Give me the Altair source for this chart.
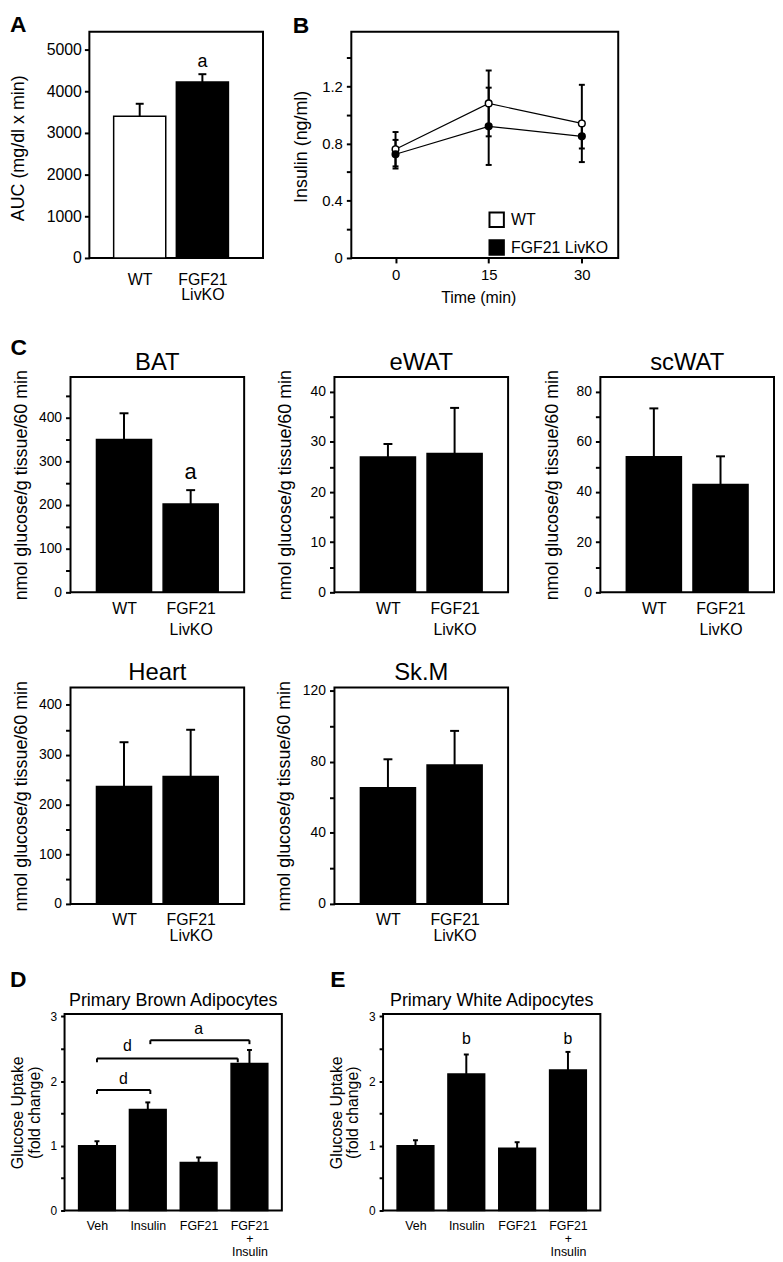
import math
import altair as alt
import pandas as pd

FONT = "Liberation Sans, Arial, Helvetica, sans-serif"

# ---------------- data ----------------
GENOTYPES = ["WT", "FGF21 LivKO"]
GENO_LINES = [["WT"], ["FGF21", "LivKO"]]

# A: glucose AUC
A_AUC = [3400, 4220]
A_SEM = [300, 190]
A_SIG = ["", "a"]
A_SIG_Y = [4590, 4590]

# B: insulin during GTT
B_TIME = [0, 15, 30]
B_WT_MEAN = [0.76, 1.08, 0.94]
B_WT_SEM = [0.12, 0.23, 0.27]
B_KO_MEAN = [0.725, 0.92, 0.85]
B_KO_SEM = [0.10, 0.27, 0.085]

# C: tissue glucose uptake
TISSUES = ["BAT", "eWAT", "scWAT", "Heart", "Sk.M"]
TISSUE_WT = [350, 27.0, 54.0, 236, 65.5]
TISSUE_WT_SEM = [60, 2.6, 19.3, 89, 16.0]
TISSUE_KO = [202, 27.7, 43.0, 256, 78.3]
TISSUE_KO_SEM = [32, 9.1, 11.2, 94, 19.2]
TISSUE_SIG = [["", "a"], ["", ""], ["", ""], ["", ""], ["", ""]]
TISSUE_SIG_Y = [258.6, 0, 0, 0, 0]

# D / E: primary adipocytes
TREAT_LINES = [["Veh"], ["Insulin"], ["FGF21"], ["FGF21", "+", "Insulin"]]
D_MEAN = [1.00, 1.56, 0.74, 2.27]
D_SEM = [0.07, 0.11, 0.08, 0.21]
E_MEAN = [1.00, 2.11, 0.96, 2.17]
E_SEM = [0.085, 0.30, 0.095, 0.28]
E_SIG = ["", "b", "", "b"]
E_SIG_Y = [2.57, 2.57, 2.57, 2.57]

D_BRACKET_FROM = [0, 0, 1.05]
D_BRACKET_TO = [1.05, 2.77, 3.0]
D_BRACKET_Y = [1.86, 2.35, 2.63]
D_BRACKET_LABEL = ["d", "d", "a"]
D_BRACKET_LABEL_X = [0.52, 0.60, 2.0]
D_BRACKET_LABEL_Y = [1.95, 2.46, 2.73]

C_YTITLE = "nmol glucose/g tissue/60 min"


# ---------------- helpers ----------------
def lines_expr(lines):
    parts = ",".join("[" + ",".join("'%s'" % t for t in l) + "]" for l in lines)
    return "[%s][datum.value]" % parts


def y_axis(values, every, fmt, title, tx, ty, lab_size, title_size, tick=5, pad=4, title_lh=None):
    expr = ("abs(round(datum.value/%s)*%s-datum.value) < 1e-6 ? "
            "(datum.value == 0 ? '0' : format(datum.value, '%s')) : ''" % (every, every, fmt))
    kw = {}
    if title_lh:
        kw["titleLineHeight"] = title_lh
    return alt.Axis(values=values, labelExpr=expr, title=title, titleX=tx, titleY=ty,
                    titleAngle=270, titleAlign="center", titleBaseline="top",
                    titleFont=FONT, titleFontSize=title_size, titleFontWeight="normal",
                    titleColor="black", labelFont=FONT, labelFontSize=lab_size,
                    labelColor="black", labelPadding=pad, ticks=True, tickSize=tick,
                    tickWidth=2, tickColor="black", domain=False, grid=False,
                    labelOverlap=False, labelFlush=False, labelBound=False, **kw)


def text_layer(text, x, y, size, weight="normal", align="left", baseline="alphabetic"):
    return alt.Chart(pd.DataFrame({"t": [text]})).mark_text(
        font=FONT, fontSize=size, fontWeight=weight, align=align, baseline=baseline,
        color="black").encode(x=alt.value(x), y=alt.value(y), text="t:N")


def hanchor(y):
    return alt.Chart(pd.DataFrame({"a": [0]})).mark_rule(opacity=0, strokeWidth=1).encode(
        x=alt.value(0), x2=alt.value(1), y=alt.value(y))


def vanchor(x):
    return alt.Chart(pd.DataFrame({"a": [0]})).mark_rule(opacity=0, strokeWidth=1).encode(
        x=alt.value(x), y=alt.value(0), y2=alt.value(1))


def spacer(w):
    return alt.Chart(pd.DataFrame({"a": [0]})).mark_rule(opacity=0, strokeWidth=0).encode(
        x=alt.value(0), x2=alt.value(0), y=alt.value(0)).properties(
        width=w, height=1, view=alt.ViewBackground(strokeWidth=0))


FRAME = alt.ViewBackground(stroke="black", strokeWidth=2)


def bar_panel(p):
    n = len(p["means"])
    df = pd.DataFrame({"pos": list(range(n)), "mean": p["means"], "sem": p["sems"],
                       "fill": p["fills"], "sig": p["sig"], "sig_y": p["sig_y"]})
    base = alt.Chart(df).transform_calculate(top="datum.mean + datum.sem")
    xs = alt.Scale(domain=p["xdom"], nice=False, zero=False)
    ys = alt.Scale(domain=[0, p["ytop"]], nice=False, zero=False)
    xaxis = alt.Axis(values=list(range(n)), labelExpr=lines_expr(p["lines"]), title=None,
                     ticks=False, domain=False, grid=False, labelFont=FONT,
                     labelFontSize=p["xlab"], labelColor="black", labelPadding=p["xpad"],
                     labelLineHeight=p["xlh"], labelOverlap=False, labelFlush=False,
                     labelBound=False)
    yaxis = y_axis(p["yvals"], p["every"], "d", p["ytitle"], p["ytx"], p["yty"],
                   p["ylab"], p["ytitle_size"], tick=p.get("tick", 5), pad=p.get("ypad", 4),
                   title_lh=p.get("title_lh"))
    X = lambda f: alt.X(f, scale=xs, axis=xaxis)
    Y = lambda f: alt.Y(f, scale=ys, axis=yaxis)
    layers = [
        base.mark_bar(size=p["bar_w"], stroke="black", strokeWidth=1.5, opacity=1).encode(
            x=X("pos:Q"), y=Y("mean:Q"), fill=alt.Fill("fill:N", scale=None)),
        base.mark_rule(color="black", strokeWidth=2, opacity=1).encode(
            x=X("pos:Q"), y=Y("mean:Q"), y2="top:Q"),
        base.mark_tick(orient="horizontal", size=p["cap"], thickness=2, color="black",
                       opacity=1).encode(x=X("pos:Q"), y=Y("top:Q")),
        base.transform_filter("datum.sig != ''").mark_text(
            font=FONT, fontSize=p["sig_size"], color="black", baseline="alphabetic",
            align="center").encode(x=X("pos:Q"), y=Y("sig_y:Q"), text="sig:N"),
    ]
    if p.get("brackets"):
        layers += p["brackets"](X, Y)
    if p.get("title"):
        layers.append(text_layer(p["title"], p["W"] / 2, p["title_y"], p["title_size"],
                                 align="center"))
    if p.get("letter"):
        layers.append(text_layer(p["letter"], p["letter_x"], p["letter_y"], 23,
                                 weight="bold"))
    for a in p.get("anchors", []):
        layers.append(hanchor(a))
    layers.append(vanchor(-(p["L"] - 0.5)))
    return alt.layer(*layers).properties(width=p["W"], height=p["H"], view=FRAME)


def d_brackets(X, Y):
    br = pd.DataFrame({"x1": D_BRACKET_FROM, "x2": D_BRACKET_TO, "y": D_BRACKET_Y,
                       "lab": D_BRACKET_LABEL, "lx": D_BRACKET_LABEL_X,
                       "ly": D_BRACKET_LABEL_Y})
    b = alt.Chart(br).transform_calculate(yt="datum.y - 0.06")
    return [
        b.mark_rule(color="black", strokeWidth=2).encode(x=X("x1:Q"), x2="x2:Q", y=Y("y:Q")),
        b.mark_rule(color="black", strokeWidth=2).encode(x=X("x1:Q"), y=Y("y:Q"), y2="yt:Q"),
        b.mark_rule(color="black", strokeWidth=2).encode(x=X("x2:Q"), y=Y("y:Q"), y2="yt:Q"),
        b.mark_text(font=FONT, fontSize=16, color="black", baseline="alphabetic",
                    align="center").encode(x=X("lx:Q"), y=Y("ly:Q"), text="lab:N"),
    ]


# ---------------- row geometry (anchors control vertical gaps) ----------------
H1, H2, H3, H4 = 228, 217, 218, 198
T1, T2, T3, T4 = 18, 40, 27, 46
B1, B2, B3, B4 = 78, 67, 63, 44

# target page x of each plot's left edge, and left extents
XA, XB = 89, 351.7
XC = [70, 335.3, 601.7]
XH, XS = 70, 335.3
XD, XE = 62.7, 384.3
LA, LB, LC, LH, LS, LD, LE = 80, 59, [60.6, 58.3, 57.4], 58.3, 59.3, 55, 55

# ---------------- panel A ----------------
panel_a = bar_panel(dict(
    means=A_AUC, sems=A_SEM, fills=["white", "black"], sig=A_SIG, sig_y=A_SIG_Y,
    sig_size=18, lines=GENO_LINES, xdom=[-0.724, 1.888], bar_w=52.5, cap=8,
    ytop=5429, yvals=[0, 1000, 2000, 3000, 4000, 5000], every=1000,
    ytitle="AUC (mg/dl x min)", ytx=-80, yty=117, ylab=16, ytitle_size=18, ypad=3,
    xlab=16, xpad=13.5, xlh=15, W=175, H=H1, L=LA,
    letter="A", letter_x=-80, letter_y=0.7,
    anchors=[-(T1 - 0.5), H1 + B1 - 0.5]))

# ---------------- panel B ----------------
b_rows = []
for g, ms, ss in [(GENOTYPES[0], B_WT_MEAN, B_WT_SEM), (GENOTYPES[1], B_KO_MEAN, B_KO_SEM)]:
    for t, m, s in zip(B_TIME, ms, ss):
        b_rows.append({"time": t, "group": g, "mean": m, "sem": s})
bdf = pd.DataFrame(b_rows)
bbase = alt.Chart(bdf).transform_calculate(lo="datum.mean - datum.sem",
                                          hi="datum.mean + datum.sem")
BW = 269
bx = alt.Scale(domain=[-7.12, 35.86], nice=False, zero=False)
by = alt.Scale(domain=[0, 1.581], nice=False, zero=False)
b_xaxis = alt.Axis(values=B_TIME, title="Time (min)", titleX=128, titleY=32,
                   titleBaseline="top", titleAlign="center", titleFont=FONT,
                   titleFontSize=16, titleFontWeight="normal", titleColor="black",
                   labelFont=FONT, labelFontSize=15, labelColor="black", labelPadding=5,
                   tickSize=5, tickWidth=2, tickColor="black", domain=False, grid=False,
                   format="d", labelFlush=False, labelOverlap=False)
b_yaxis = y_axis([0, 0.2, 0.4, 0.6, 0.8, 1.0, 1.2, 1.4], 0.4, ".1f", "Insulin (ng/ml)",
                 -59, 115.5, 15, 18, tick=5, pad=4)
BX = lambda f: alt.X(f, scale=bx, axis=b_xaxis)
BY = lambda f: alt.Y(f, scale=by, axis=b_yaxis)


def make_panel_b(origin_in_row):
    return alt.layer(
        bbase.mark_line(color="black", strokeWidth=1.2).encode(
            x=BX("time:Q"), y=BY("mean:Q"), detail="group:N"),
        bbase.mark_rule(color="black", strokeWidth=2, opacity=1).encode(
            x=BX("time:Q"), y=BY("lo:Q"), y2="hi:Q"),
        bbase.mark_tick(orient="horizontal", size=6, thickness=2, color="black",
                        opacity=1).encode(x=BX("time:Q"), y=BY("lo:Q")),
        bbase.mark_tick(orient="horizontal", size=6, thickness=2, color="black",
                        opacity=1).encode(x=BX("time:Q"), y=BY("hi:Q")),
        bbase.mark_point(filled=True, shape="circle", size=45, stroke="black",
                         strokeWidth=1.5, opacity=1).encode(
            x=BX("time:Q"), y=BY("mean:Q"),
            fill=alt.Fill("group:N",
                          scale=alt.Scale(domain=GENOTYPES, range=["white", "black"]),
                          legend=alt.Legend(title=None, orient="none",
                                            legendX=origin_in_row + 140, legendY=181,
                                            symbolType="square", symbolSize=210,
                                            symbolStrokeColor="black", symbolStrokeWidth=2,
                                            symbolOpacity=1, labelFont=FONT,
                                            labelFontSize=16, labelColor="black",
                                            labelOffset=6, rowPadding=5, padding=0,
                                            direction="vertical"))),
        text_layer("B", -59, 1.7, 23, weight="bold"),
        vanchor(-(LB - 0.5)),
    ).properties(width=BW, height=H1, view=FRAME)


# ---------------- panel C ----------------
C_SPECS = [
    dict(ytop=493, yvals=[0, 50, 100, 150, 200, 250, 300, 350, 400, 450], every=100),
    dict(ytop=42.96, yvals=[0, 5, 10, 15, 20, 25, 30, 35, 40], every=10),
    dict(ytop=85.8, yvals=[0, 10, 20, 30, 40, 50, 60, 70, 80], every=20),
    dict(ytop=434.8, yvals=[0, 50, 100, 150, 200, 250, 300, 350, 400], every=100),
    dict(ytop=121.9, yvals=[0, 20, 40, 60, 80, 100, 120], every=40),
]
C_TX = [-58.3, -58.3, -57.4, -58.3, -59.3]
C_L = [LC[0], LC[1], LC[2], LH, LS]
c_panels = []
for i, name in enumerate(TISSUES):
    row2 = i < 3
    H = H2 if row2 else H3
    spec = dict(
        means=[TISSUE_WT[i], TISSUE_KO[i]], sems=[TISSUE_WT_SEM[i], TISSUE_KO_SEM[i]],
        fills=["black", "black"], sig=TISSUE_SIG[i], sig_y=[TISSUE_SIG_Y[i]] * 2, sig_size=22,
        lines=GENO_LINES, xdom=[-0.728, 1.728], bar_w=55.5, cap=9,
        ytitle=C_YTITLE, ytx=C_TX[i], yty=H / 2, ylab=14, ytitle_size=18,
        xlab=16, xpad=8, xlh=21 if row2 else 16, W=175, H=H, L=C_L[i],
        title=name, title_y=-7 if row2 else -7.3, title_size=24,
    )
    spec.update(C_SPECS[i])
    if i == 0:
        spec.update(letter="C", letter_x=-60.6, letter_y=-21.7,
                    anchors=[-(T2 - 0.5), H2 + B2 - 0.5])
    if i == 3:
        spec.update(anchors=[-(T3 - 0.5), H3 + B3 - 0.5])
    c_panels.append(bar_panel(spec))

# ---------------- panels D and E ----------------
DE_COMMON = dict(
    lines=TREAT_LINES, xdom=[-0.54, 3.54], bar_w=37, cap=5, ytop=3.035,
    yvals=[0, 0.5, 1, 1.5, 2, 2.5, 3], every=1, ytitle=["Glucose Uptake", "(fold change)"],
    ytx=-55, yty=99, ylab=12, ytitle_size=16, tick=4, ypad=4, title_lh=16.5,
    xlab=12.5, xpad=9, xlh=13, W=219, H=H4, title_y=-8.5, title_size=18, sig_size=16,
)
d_spec = dict(DE_COMMON)
d_spec.update(means=D_MEAN, sems=D_SEM, fills=["black"] * 4, sig=["", "", "", ""],
              sig_y=[0, 0, 0, 0], title="Primary Brown Adipocytes", letter="D",
              letter_x=-55, letter_y=-27.7, brackets=d_brackets, L=LD,
              anchors=[-(T4 - 0.5), H4 + B4 - 0.5])
panel_d = bar_panel(d_spec)
e_spec = dict(DE_COMMON)
e_spec.update(means=E_MEAN, sems=E_SEM, fills=["black"] * 4, sig=E_SIG, sig_y=E_SIG_Y,
              title="Primary White Adipocytes", letter="E", letter_x=-53.3, letter_y=-27.7,
              ytx=-55, L=LE)
panel_e = bar_panel(e_spec)


# ---------------- layout ----------------
def row_plan(specs):
    """spacer widths and plot origins (page coords)"""
    plan = []
    first = specs[0]
    s = max(1, int(round(first["x"] - 8 - math.ceil(first["L"]))))
    origin = 8 + s + math.ceil(first["L"])
    plan.append((s, origin))
    right = origin + math.ceil(first["W"] + 1)
    for sp in specs[1:]:
        g = max(1, int(round(sp["x"] - right - math.ceil(sp["L"]))))
        origin = right + g + math.ceil(sp["L"])
        plan.append((g, origin))
        right = origin + math.ceil(sp["W"] + 1)
    return plan


def build_row(specs, charts):
    plan = row_plan(specs)
    items = []
    for (g, _), ch in zip(plan, charts):
        items += [spacer(g), ch]
    return alt.hconcat(*items, spacing=0)


r1_specs = [dict(L=LA, W=175, x=XA), dict(L=LB, W=BW, x=XB)]
b_origin_page = row_plan(r1_specs)[1][1]
panel_b = make_panel_b(b_origin_page - 8)
row1 = build_row(r1_specs, [panel_a, panel_b])
row2 = build_row([dict(L=LC[0], W=175, x=XC[0]), dict(L=LC[1], W=175, x=XC[1]),
                  dict(L=LC[2], W=175, x=XC[2])], c_panels[:3])
row3 = build_row([dict(L=LH, W=175, x=XH), dict(L=LS, W=175, x=XS)], c_panels[3:])
row4 = build_row([dict(L=LD, W=219, x=XD), dict(L=LE, W=219, x=XE)], [panel_d, panel_e])

chart = alt.vconcat(row1, row2, row3, row4, spacing=0).properties(
    padding={"left": 0, "top": 0, "right": 0, "bottom": 0}
).configure(font=FONT).configure_view(strokeWidth=0).configure_text(font=FONT)

chart.save("out.html", embed_options={"renderer": "svg", "actions": False})
